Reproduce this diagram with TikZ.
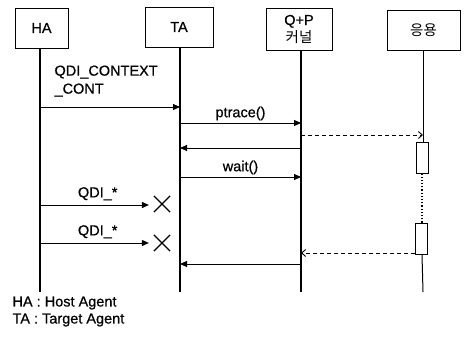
\documentclass[tikz,border=0pt]{standalone}
\usepackage{fontspec}
\setmainfont{Liberation Sans}[FakeBold=0.6]
\newfontfamily\kor{Noto Sans CJK KR}
\usetikzlibrary{arrows.meta,positioning,shapes.misc}

\begin{document}
\begin{tikzpicture}[x=1pt, y=-1pt,
  every node/.style={font=\fontsize{14.5}{18}\selectfont},
  actor/.style={draw, line width=0.9pt, minimum height=40pt, inner sep=0pt, align=center},
  life/.style={line width=1.2pt},
  msg/.style={line width=0.9pt, -{Triangle[length=7pt, width=6pt]}},
  ret/.style={line width=0.9pt, dash pattern=on 4pt off 3pt, -{Straight Barb[length=4pt, width=7pt]}},
  act/.style={draw, fill=white, line width=0.9pt, minimum width=12pt, minimum height=31pt, inner sep=0pt},
  kill/.style={cross out, draw, line width=1.2pt, minimum size=15pt, inner sep=0pt}]
  \useasboundingbox (0,0) rectangle (465,341);

  % lifelines heads
  \node[actor, minimum width=53pt] (ha) at (41.5,28) {HA};
  \node[actor, minimum width=68pt] (ta) at (179,27) {TA};
  \node[actor, minimum width=66pt, minimum height=42pt] (qp) at (299,29) {Q+P\\[-1pt]{\kor 커널}};
  \node[actor, minimum width=73pt] (app) at (423.5,30) {\kor 응용};

  \coordinate (haend) at (40,292);
  \coordinate (taend) at (180,292);
  \coordinate (qpend) at (301,292);
  \coordinate (append) at (423,292);
  \draw[life] (ha.south -| haend) -- (haend);
  \draw[life] (ta.south -| taend) -- (taend);
  \draw[life] (qp.south -| qpend) -- (qpend);

  % activations on the application line
  \node[act] (busy1) at (422.5,157.5) {};
  \node[act] (busy2) at (421.5,239) {};
  \draw[line width=1pt] (app.south -| append) -- (busy1.north -| append);
  \draw[line width=1.2pt, dotted] (busy1.south -| 422,0) -- (busy2.north -| 422,0);
  \draw[line width=1pt] (busy2.south -| 422,0) -- (append);

  % messages
  \coordinate (ha1) at (40,107);
  \coordinate (ta1) at (180,107);
  \draw[msg] (ha1) -- (ta1);
  \node[anchor=west, align=left] (ctx) at (51,81) {QDI\_CONTEXT\\\_CONT};

  \coordinate (ta2) at (180,123);
  \coordinate (qp2) at (301,123);
  \draw[msg] (ta2) -- (qp2) node[midway, above=-1pt] (ptr) {ptrace()};

  \coordinate (qp3) at (301,135);
  \coordinate (app3) at (423,135);
  \draw[ret] (qp3) -- (app3);

  \coordinate (qp4) at (301,148);
  \coordinate (ta4) at (180,148);
  \draw[msg] (qp4) -- (ta4);

  \coordinate (ta5) at (180,177);
  \coordinate (qp5) at (301,177);
  \draw[msg] (ta5) -- (qp5) node[midway, above=-1pt] (wt) {wait()};

  \node[kill] (x1) at (162,204) {};
  \node[kill] (x2) at (162,243) {};
  \coordinate (ha6) at (40,205);
  \coordinate (ha7) at (40,243);
  \draw[msg] (ha6) -- ([xshift=-5pt]x1.west |- ha6) node[pos=0.53, above=1pt] (q1) {QDI\_*};
  \draw[msg] (ha7) -- ([xshift=-5pt]x2.west |- ha7) node[pos=0.53, above=1pt] (q2) {QDI\_*};

  \coordinate (qp8) at (301,253);
  \draw[ret] (busy2.south west |- qp8) -- (qp8);

  \coordinate (qp9) at (301,264);
  \coordinate (ta9) at (180,264);
  \draw[msg] (qp9) -- (ta9);

  % legend
  \node[anchor=west, align=left, font=\fontsize{14.5}{17}\selectfont] (legend) at (9,311.5) {HA : Host Agent\\TA : Target Agent};
\end{tikzpicture}
\end{document}
